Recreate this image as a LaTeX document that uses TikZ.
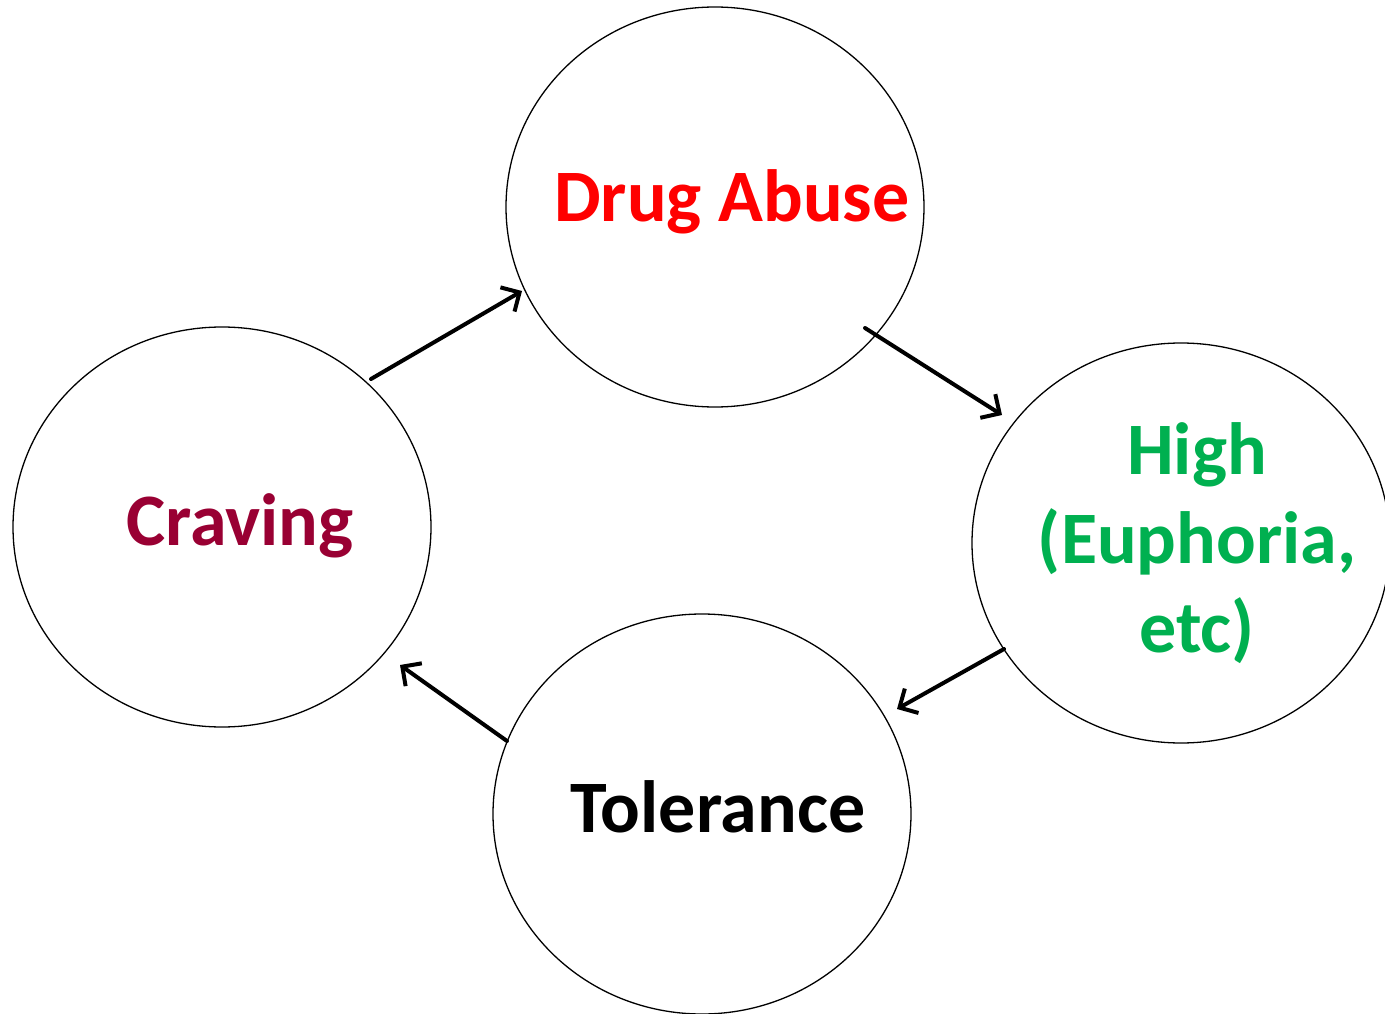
\documentclass[tikz,border=0pt]{standalone}
\usepackage{fontspec}
\setmainfont{Carlito}
\usetikzlibrary{arrows.meta,shapes.geometric}
\definecolor{cred}{RGB}{255,0,0}
\definecolor{cgreen}{RGB}{0,176,80}
\definecolor{ccrimson}{RGB}{153,0,51}
\begin{document}
\begin{tikzpicture}[x=1pt,y=-1pt,
  circ/.style={draw=black,line width=1.3pt,ellipse,minimum width=418pt,minimum height=400pt,inner sep=0pt},
  lbl/.style={font=\fontsize{74}{89}\selectfont\bfseries,align=center,inner sep=0pt},
  arr/.style={-{Straight Barb[length=14pt,width=28pt,line width=4pt]},line width=4pt,line cap=round}]
\useasboundingbox (0,0) rectangle (1385,1014);
\node[circ] (da) at (715,207) {};
\node[circ] (hi) at (1181,543) {};
\node[circ] (cr) at (222,527) {};
\node[circ] (to) at (702,814) {};
\node[lbl,text=cred,anchor=base] (tda) at (732,222) {Drug Abuse};
\node[lbl,text=cgreen,anchor=center] (thi) at (1197,543) {High\\(Euphoria,\\etc)};
\node[lbl,text=ccrimson,anchor=base] (tcr) at (240,545) {Craving};
\node[lbl,text=black,anchor=base] (tto) at (718,832) {Tolerance};
\coordinate (a1s) at (371,379);
\coordinate (a1e) at (522,291);
\coordinate (a2s) at (865,328);
\coordinate (a2e) at (1002,415);
\coordinate (a3s) at (1004,649);
\coordinate (a3e) at (897,709);
\coordinate (a4s) at (507,741);
\coordinate (a4e) at (400,665);
\draw[arr] (a1s) -- (a1e);
\draw[arr] (a2s) -- (a2e);
\draw[arr] (a3s) -- (a3e);
\draw[arr] (a4s) -- (a4e);
\end{tikzpicture}
\end{document}
